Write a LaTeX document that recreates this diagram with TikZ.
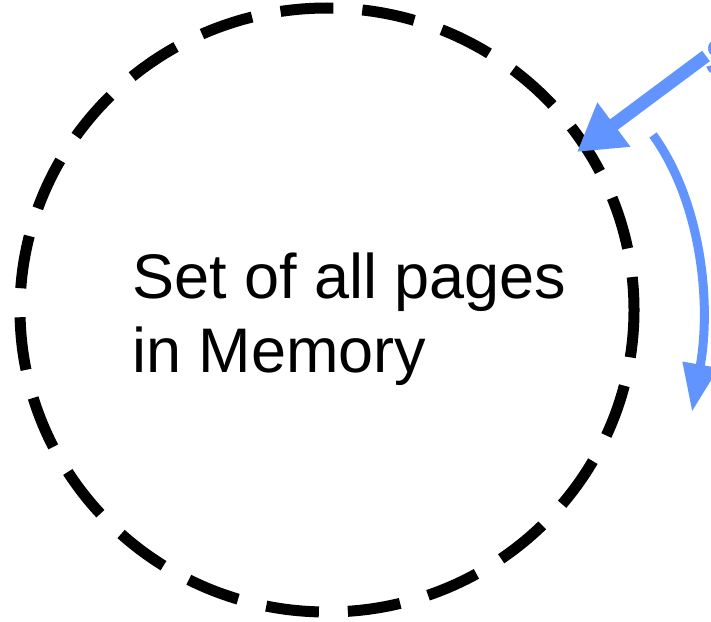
\documentclass[tikz,border=0pt]{standalone}
\usepackage{fontspec}
\setmainfont{Liberation Sans}
\usetikzlibrary{arrows.meta,shapes.geometric}
\definecolor{arrblue}{RGB}{97,148,255}
\begin{document}
\begin{tikzpicture}[x=1pt,y=-1pt,
  setcircle/.style={ellipse,draw=black,line width=11pt,dash pattern=on 53pt off 29pt,inner sep=0pt,minimum width=614pt,minimum height=604pt},
  bluearrow/.style={draw=arrblue,line width=#1},
  lbl/.style={inner sep=0pt,anchor=base west,align=left}]
\useasboundingbox (0,0) rectangle (711,621);
\node[setcircle,dash phase=20pt] (mem) at (327,310) {};
\node[lbl,font=\fontsize{63}{74}\selectfont] (txt) at (132,372) {Set of all pages\\in Memory};
\node[lbl,font=\fontsize{52}{60}\selectfont,text=arrblue] (s) at (704,75) {S};
\coordinate (a1) at (706,56);
\coordinate (a2) at (577,152);
\draw[bluearrow=13pt,-{Triangle[length=46pt,width=52pt]}] (a1) -- (a2);
\coordinate (c1) at (653,135);
\coordinate (c2) at (692,412);
\draw[bluearrow=9pt,-{Triangle[length=48pt,width=34pt]}] (c1) .. controls (700,200) and (712,300) .. (c2);
\end{tikzpicture}
\end{document}
